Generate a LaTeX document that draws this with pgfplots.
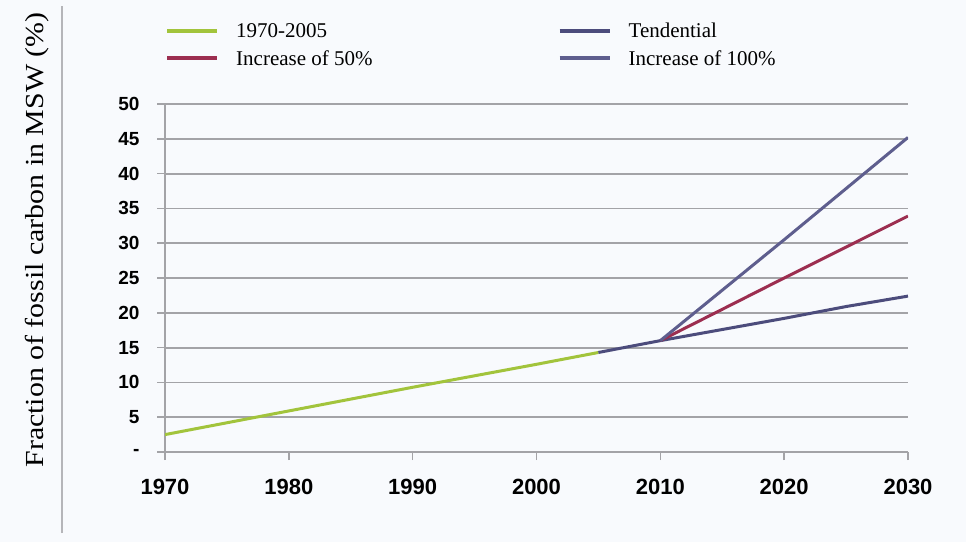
\documentclass[border=0pt]{standalone}
\usepackage{fontspec}
\usepackage{graphicx}
\usepackage{pgfplots}
\pgfplotsset{compat=1.18}
\setmainfont{Liberation Serif}
\newfontfamily\ticksans{Liberation Sans}

\definecolor{bgc}{HTML}{F8FAFD}
\definecolor{gridc}{HTML}{A3A3A7}
\definecolor{histc}{HTML}{A2C43C}
\definecolor{tendc}{HTML}{4C4C7C}
\definecolor{fiftyc}{HTML}{9C2E50}
\definecolor{hundc}{HTML}{5E5E8E}

\begin{document}
\begin{tikzpicture}[x=1pt,y=1pt]
% page background and frame line on the left
\fill[bgc] (0,0) rectangle (966,542);
\draw[gridc!80,line width=1.5pt] (62,9) -- (62,536);

\node[rotate=90,font=\fontsize{26}{26}\selectfont] at (37,302)
  {\scalebox{1.15}[1]{Fraction of fossil carbon in MSW (\%)}};

\begin{axis}[
  at={(165pt,90pt)}, anchor=south west,
  scale only axis, width=743pt, height=348pt,
  xmin=1970, xmax=2030, ymin=0, ymax=50,
  axis x line*=bottom, axis y line*=left,
  axis line style={gridc, line width=1.8pt},
  xtick={1970,1980,...,2030},
  xticklabels={1970,1980,1990,2000,2010,2020,2030},
  ytick={0,5,...,50},
  yticklabels={-,5,10,15,20,25,30,35,40,45,50},
  tick align=outside,
  major tick length=8pt,
  tick style={gridc, line width=1.5pt},
  ymajorgrids,
  grid style={gridc, line width=1.8pt},
  xticklabel style={font=\ticksans\bfseries\fontsize{22}{22}\selectfont, yshift=-16pt},
  yticklabel style={font=\ticksans\bfseries\fontsize{19}{19}\selectfont, xshift=-14pt},
  legend columns=2,
  legend cell align=left,
  legend style={at={(rel axis cs:0,1.2385)}, anchor=north west,
    draw=none, fill=none, inner sep=0pt,
    font=\fontsize{21}{21}\selectfont,
    row sep=7pt, column sep=15pt,
    /tikz/every even column/.append style={column sep=183pt}},
  legend image code/.code={\draw[#1, line width=4pt] (0pt,0pt) -- (50pt,0pt);},
]
\addplot[histc, line width=3pt] coordinates {(1970,2.5) (1980,5.9) (1990,9.3) (2000,12.6) (2005,14.3)};
\addlegendentry{1970-2005}
\addplot[tendc, line width=3pt] coordinates {(2005,14.3) (2010,16.0) (2015,17.6) (2020,19.2) (2025,20.9) (2030,22.4)};
\addlegendentry{Tendential}
\addplot[fiftyc, line width=3pt] coordinates {(2010,16.0) (2020,25.0) (2030,33.9)};
\addlegendentry{Increase of 50\%}
\addplot[hundc, line width=3pt] coordinates {(2010,16.0) (2020,30.5) (2030,45.2)};
\addlegendentry{Increase of 100\%}
\end{axis}
\end{tikzpicture}
\end{document}
